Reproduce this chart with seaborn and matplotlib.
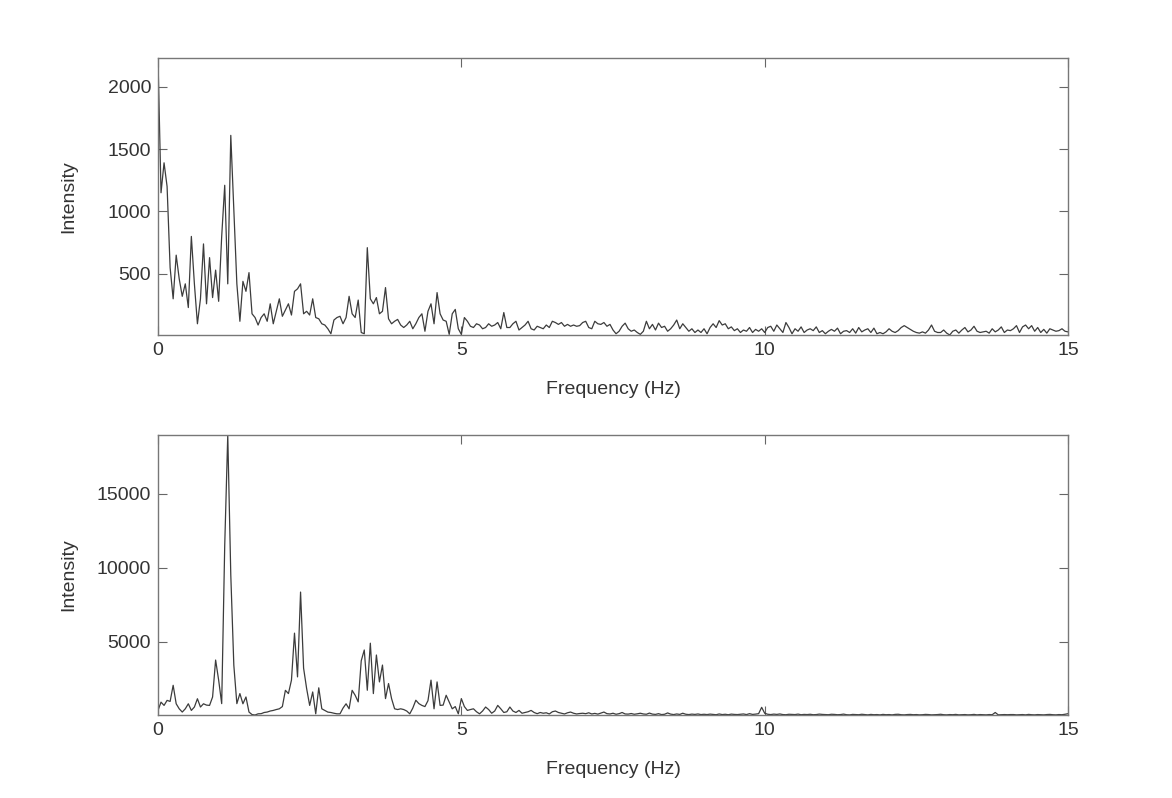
import numpy as np
import pandas as pd
import matplotlib
matplotlib.use("Agg")
import matplotlib.pyplot as plt
import seaborn as sns

sns.set_style("ticks")
plt.rcParams["font.family"] = ["Liberation Sans", "DejaVu Sans"]

# frequency grid (Hz), one sample every 0.05 Hz from 0 to 15
freq = np.round(np.arange(0, 301) * 0.05, 2)

# upper spectrum, values (one row = 1 Hz)
intensity_top = [
    2230, 1150, 1390, 1200, 550, 300, 650, 460, 320, 420, 230, 800, 420, 100, 300, 740, 260, 630, 310, 530,
    280, 800, 1210, 420, 1610, 1010, 420, 120, 440, 360, 510, 180, 150, 90, 150, 180, 120, 260, 100, 200,
    300, 160, 210, 260, 170, 360, 380, 420, 180, 200, 170, 300, 150, 140, 100, 90, 60, 20, 130, 150,
    160, 100, 150, 320, 180, 150, 290, 30, 20, 710, 300, 260, 310, 180, 200, 390, 140, 100, 120, 135,
    90, 70, 90, 120, 60, 100, 150, 180, 40, 200, 260, 100, 350, 180, 130, 120, 15, 180, 215, 60,
    15, 150, 120, 80, 70, 100, 90, 60, 70, 100, 80, 90, 110, 60, 190, 70, 70, 100, 120, 50,
    70, 90, 120, 60, 50, 80, 70, 60, 90, 70, 120, 110, 95, 110, 80, 95, 80, 90, 80, 85,
    110, 120, 70, 60, 120, 100, 95, 110, 80, 95, 50, 20, 40, 80, 105, 60, 40, 50, 30, 15,
    40, 120, 60, 95, 50, 105, 70, 80, 40, 60, 90, 130, 60, 100, 70, 40, 60, 30, 50, 30,
    60, 20, 70, 100, 70, 125, 90, 100, 60, 75, 45, 60, 30, 50, 40, 70, 30, 55, 40, 60,
    30, 70, 80, 40, 90, 60, 30, 110, 70, 20, 60, 40, 75, 30, 50, 60, 45, 75, 30, 45,
    20, 40, 55, 40, 65, 20, 40, 45, 30, 60, 25, 70, 35, 50, 60, 30, 65, 20, 30, 20,
    35, 60, 40, 30, 45, 70, 85, 70, 55, 40, 30, 25, 35, 25, 50, 90, 40, 30, 30, 50,
    25, 10, 40, 50, 25, 50, 70, 35, 50, 80, 40, 30, 35, 40, 25, 60, 35, 50, 75, 30,
    50, 45, 60, 85, 30, 75, 90, 60, 85, 40, 70, 30, 55, 25, 60, 50, 40, 45, 60, 40,
    35,
]

# lower spectrum
intensity_bottom = [
    340, 900, 680, 1020, 950, 2040, 790, 450, 230, 450, 790, 340, 570, 1130, 570, 790, 700, 680, 1250, 3750,
    2390, 800, 11500, 18980, 9500, 3400, 800, 1480, 790, 1250, 230, 60, 30, 110, 120, 200, 230, 300, 340, 400,
    450, 600, 1700, 1480, 2390, 5570, 2610, 8350, 3200, 1820, 680, 1590, 110, 1870, 450, 340, 226, 200, 150, 110,
    110, 500, 790, 450, 1700, 1365, 920, 3700, 4430, 1705, 4890, 1480, 4090, 2270, 3410, 1140, 2160, 1140, 450, 400,
    450, 400, 300, 110, 500, 1030, 800, 680, 600, 1000, 2390, 450, 2270, 680, 700, 1365, 900, 450, 600, 110,
    1140, 600, 340, 400, 450, 250, 110, 300, 570, 400, 150, 300, 680, 450, 200, 250, 570, 300, 200, 340,
    150, 200, 250, 340, 200, 120, 200, 150, 180, 100, 250, 300, 200, 150, 100, 180, 230, 150, 100, 130,
    150, 120, 180, 100, 140, 90, 160, 230, 120, 100, 150, 80, 120, 200, 100, 90, 130, 80, 110, 150,
    100, 80, 160, 90, 70, 120, 60, 80, 170, 90, 60, 100, 70, 150, 80, 60, 90, 70, 100, 60,
    80, 60, 90, 70, 50, 100, 60, 80, 50, 90, 70, 60, 80, 100, 60, 120, 70, 90, 120, 550,
    150, 80, 60, 90, 70, 100, 60, 50, 80, 70, 60, 90, 50, 70, 60, 80, 50, 60, 90, 70,
    60, 50, 80, 70, 50, 60, 90, 50, 40, 70, 60, 50, 80, 60, 40, 70, 50, 60, 40, 70,
    50, 60, 40, 70, 80, 50, 40, 60, 70, 50, 60, 40, 50, 70, 60, 40, 50, 60, 80, 50,
    40, 60, 50, 70, 40, 50, 60, 40, 50, 70, 40, 60, 50, 40, 60, 50, 200, 40, 50, 60,
    50, 60, 60, 40, 50, 60, 40, 70, 50, 40, 60, 50, 40, 60, 70, 50, 40, 60, 50, 80,
    120,
]

top_ticks = [500, 1000, 1500, 2000]
bottom_ticks = [5000, 10000, 15000]
x_ticks = [0, 5, 10, 15]

df = pd.DataFrame({"freq": freq, "top": intensity_top, "bottom": intensity_bottom})

fig = plt.figure(figsize=(11.72, 7.98), dpi=100, facecolor="white")
ax1 = fig.add_axes([0.1348, 0.5802, 0.7765, 0.3471])
ax2 = fig.add_axes([0.1348, 0.1040, 0.7765, 0.3509])

text_col = "#333333"
for ax, col, yt in [(ax1, "top", top_ticks), (ax2, "bottom", bottom_ticks)]:
    sns.lineplot(data=df, x="freq", y=col, ax=ax, color="#3c3c3c", linewidth=0.9,
                 estimator=None, sort=False)
    ax.set_xlim(0, 15)
    ax.set_ylim(df[col].min(), df[col].max())
    ax.set_xticks(x_ticks)
    ax.set_yticks(yt)
    ax.tick_params(direction="in", length=6.5, width=0.8, color="#666666",
                   top=True, right=True, labelsize=14, labelcolor=text_col, pad=5)
    for s in ax.spines.values():
        s.set_color("#777777")
        s.set_linewidth(1.0)
    ax.set_xlabel("Frequency (Hz)", fontsize=14, color=text_col, labelpad=16)
    ax.set_ylabel("Intensity", fontsize=14, color=text_col)
    ax.yaxis.set_label_coords(-0.089, 0.5)
    ax.set_facecolor("white")

fig.savefig("out.png", dpi=100, facecolor="white")
